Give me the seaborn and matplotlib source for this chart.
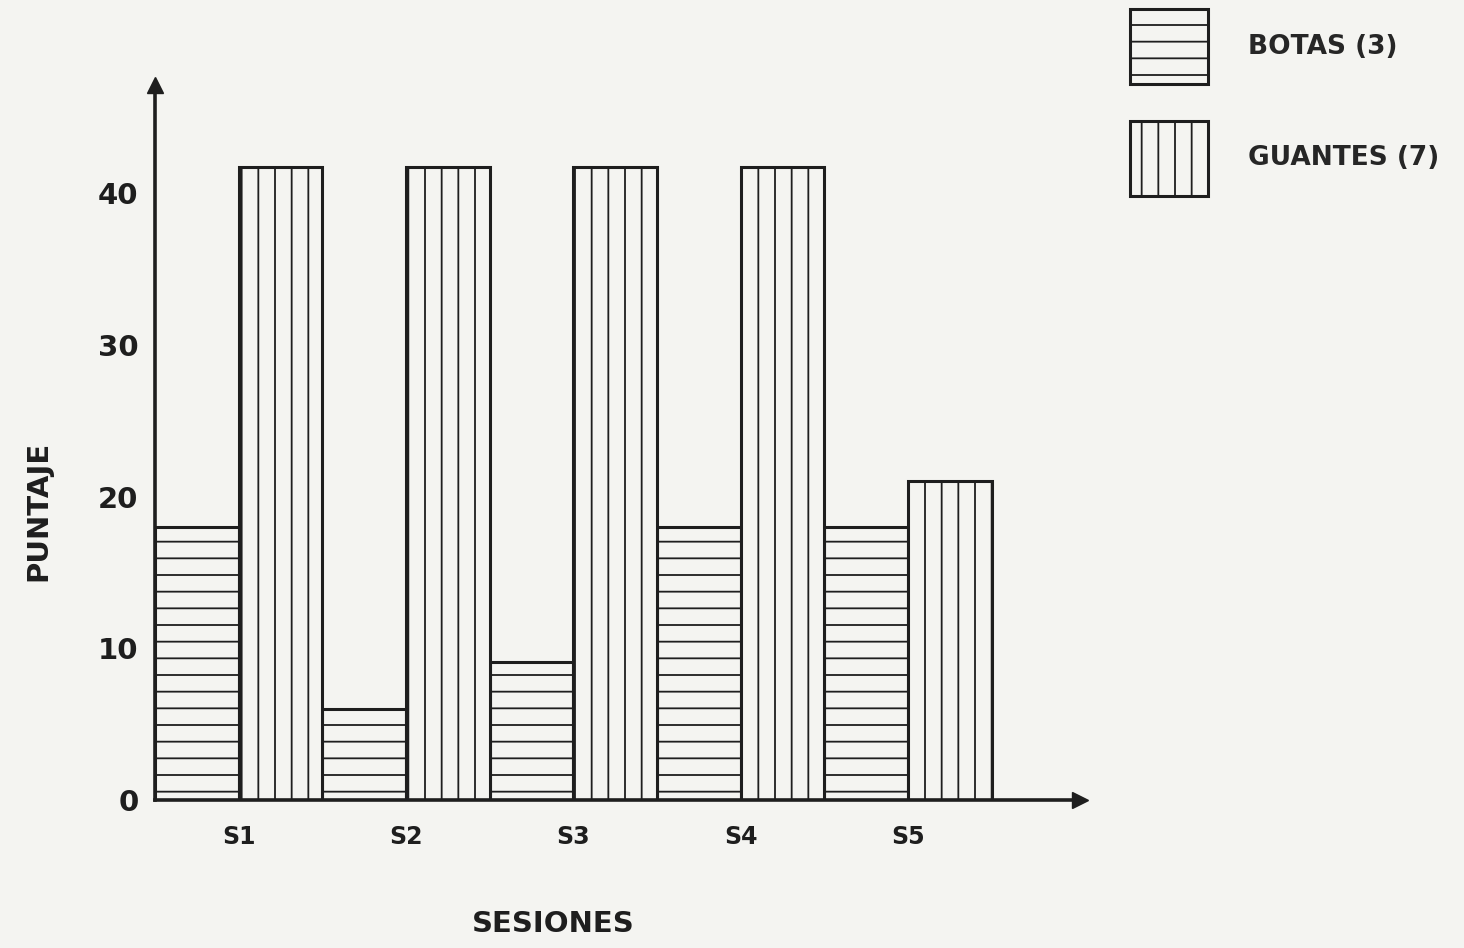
import pandas as pd
import seaborn as sns
import matplotlib
matplotlib.use('Agg')
import matplotlib.pyplot as plt
from matplotlib.patches import Patch

# datos
sesiones = ['S1', 'S2', 'S3', 'S4', 'S5']
botas = [18, 6, 9.1, 18, 18]
guantes = [41.7, 41.7, 41.7, 41.7, 21]
series = ['BOTAS (3)', 'GUANTES (7)']
hatches = ['-', '|']

df = pd.DataFrame({
    'sesion': sesiones * 2,
    'serie': [series[0]] * len(sesiones) + [series[1]] * len(sesiones),
    'puntaje': botas + guantes,
})

paper = '#f4f4f1'
ink = '#1e1e1e'

sns.set_style('white')
plt.rcParams['font.family'] = ['DejaVu Sans']
plt.rcParams['hatch.color'] = ink
plt.rcParams['hatch.linewidth'] = 1.3

fig = plt.figure(figsize=(14.64, 9.48), dpi=100, facecolor=paper)
ax = fig.add_axes([0.106, 0.156, 0.632, 0.754], facecolor=paper)

sns.barplot(data=df, x='sesion', y='puntaje', hue='serie', ax=ax,
            width=1.0, palette=[paper, paper], edgecolor=ink,
            linewidth=2.2, legend=False, saturation=1)

for cont, h in zip(ax.containers, hatches):
    for bar in cont:
        bar.set_hatch(h)

ax.set_xlim(-0.5, 5.03)
ax.set_ylim(0, 47.1)
ax.set_yticks([0, 10, 20, 30, 40])

for s in ['top', 'right']:
    ax.spines[s].set_visible(False)
for s in ['left', 'bottom']:
    ax.spines[s].set_linewidth(2.6)
    ax.spines[s].set_color(ink)

# flechas en los ejes
ax.plot(1, 0, '>', color=ink, ms=12, transform=ax.transAxes, clip_on=False)
ax.plot(0, 1, '^', color=ink, ms=12, transform=ax.transAxes, clip_on=False)

ax.tick_params(axis='y', length=8, width=2, color=ink, pad=4,
               labelsize=21, labelcolor=ink)
ax.tick_params(axis='x', length=0, pad=18, labelsize=17, labelcolor=ink)
for t in ax.get_xticklabels() + ax.get_yticklabels():
    t.set_fontweight('bold')

ax.set_xlabel('SESIONES', fontsize=21, fontweight='bold', color=ink)
ax.set_ylabel('PUNTAJE', fontsize=21, fontweight='bold', color=ink)
ax.xaxis.set_label_coords(0.43, -0.154)
ax.yaxis.set_label_coords(-0.111, 0.405)

handles = [Patch(facecolor=paper, edgecolor=ink, hatch=h, linewidth=2.2)
           for h in hatches]
fig.legend(handles, series, loc='upper left', bbox_to_anchor=(0.763, 1.004),
           frameon=False, prop={'weight': 'bold', 'size': 19},
           handlelength=2.95, handleheight=4.0, labelspacing=1.38,
           handletextpad=1.5, borderpad=0)

fig.savefig('out.png', dpi=100, facecolor=paper)
